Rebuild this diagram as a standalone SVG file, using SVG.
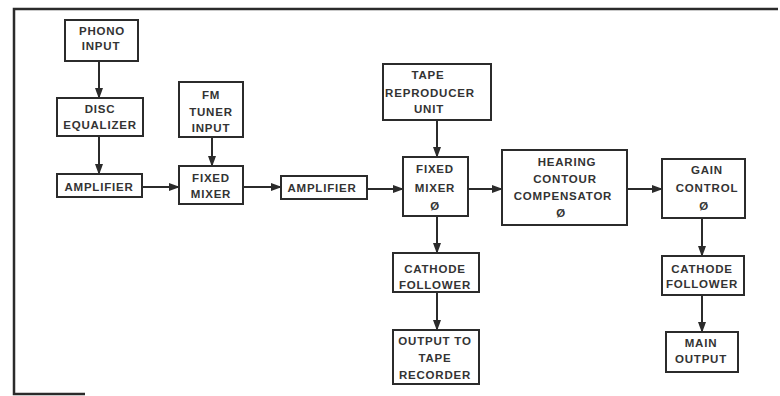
<svg xmlns="http://www.w3.org/2000/svg" width="780" height="396" viewBox="0 0 780 396">
<defs>
<marker id="ah" markerWidth="11" markerHeight="8" refX="10" refY="4" orient="auto" markerUnits="userSpaceOnUse">
<path d="M0,0 L11,4 L0,8 z" fill="#2b2b2b"/>
</marker>
</defs>
<style>
.box{fill:#fff;stroke:#2b2b2b;stroke-width:2}
.t{font-family:"Liberation Sans",Arial,sans-serif;font-weight:bold;font-size:11.5px;letter-spacing:0.8px;fill:#333;text-anchor:middle}
.c{stroke:#2b2b2b;stroke-width:2;fill:none;marker-end:url(#ah)}
.frame{stroke:#2b2b2b;stroke-width:2.5;fill:none}
</style>
<rect width="780" height="396" fill="#fff"/>
<path class="frame" d="M778,9 L14,9 L14,394 L85,394"/>
<g id="connectors">
<line class="c" x1="99" y1="61" x2="99" y2="98"/>
<line class="c" x1="99" y1="136" x2="99" y2="174"/>
<line class="c" x1="142" y1="187" x2="179" y2="187"/>
<line class="c" x1="212" y1="137" x2="212" y2="166"/>
<line class="c" x1="243" y1="187" x2="281" y2="187"/>
<line class="c" x1="367" y1="189" x2="403" y2="189"/>
<line class="c" x1="437" y1="120" x2="437" y2="157"/>
<line class="c" x1="468" y1="189" x2="502" y2="189"/>
<line class="c" x1="627" y1="189" x2="662" y2="189"/>
<line class="c" x1="437" y1="216" x2="437" y2="253"/>
<line class="c" x1="437" y1="292" x2="437" y2="330"/>
<line class="c" x1="702" y1="218" x2="702" y2="256"/>
<line class="c" x1="702" y1="295" x2="702" y2="332"/>
</g>
<g id="phono">
<rect class="box" x="65" y="20" width="73" height="41"/>
<text class="t" x="102" y="35">PHONO</text>
<text class="t" x="101" y="50">INPUT</text>
</g>
<g id="disc">
<rect class="box" x="57" y="98" width="86" height="38"/>
<text class="t" x="100" y="113">DISC</text>
<text class="t" x="100" y="129">EQUALIZER</text>
</g>
<g id="amp1">
<rect class="box" x="57" y="174" width="85" height="23"/>
<text class="t" x="99" y="191">AMPLIFIER</text>
</g>
<g id="fm">
<rect class="box" x="179" y="82" width="64" height="55"/>
<text class="t" x="211" y="99">FM</text>
<text class="t" x="211" y="116">TUNER</text>
<text class="t" x="211" y="132">INPUT</text>
</g>
<g id="mixer1">
<rect class="box" x="179" y="166" width="64" height="38"/>
<text class="t" x="211" y="182">FIXED</text>
<text class="t" x="211" y="198">MIXER</text>
</g>
<g id="amp2">
<rect class="box" x="281" y="176" width="86" height="23"/>
<text class="t" x="322" y="192">AMPLIFIER</text>
</g>
<g id="tape">
<rect class="box" x="383" y="64" width="108" height="56"/>
<text class="t" x="428" y="79">TAPE</text>
<text class="t" x="430" y="97">REPRODUCER</text>
<text class="t" x="429" y="113">UNIT</text>
</g>
<g id="mixer2">
<rect class="box" x="403" y="157" width="65" height="59"/>
<text class="t" x="435" y="173">FIXED</text>
<text class="t" x="435" y="192">MIXER</text>
<text class="t" x="435" y="210">Ø</text>
</g>
<g id="hearing">
<rect class="box" x="502" y="150" width="125" height="75"/>
<text class="t" x="567" y="166">HEARING</text>
<text class="t" x="565" y="183">CONTOUR</text>
<text class="t" x="563" y="200">COMPENSATOR</text>
<text class="t" x="561" y="217">Ø</text>
</g>
<g id="gain">
<rect class="box" x="662" y="159" width="83" height="59"/>
<text class="t" x="707" y="174">GAIN</text>
<text class="t" x="707" y="192">CONTROL</text>
<text class="t" x="704" y="210">Ø</text>
</g>
<g id="cf1">
<rect class="box" x="393" y="253" width="86" height="39"/>
<text class="t" x="435" y="273">CATHODE</text>
<text class="t" x="435" y="289">FOLLOWER</text>
</g>
<g id="outtape">
<rect class="box" x="393" y="330" width="86" height="54"/>
<text class="t" x="435" y="345">OUTPUT TO</text>
<text class="t" x="435" y="362">TAPE</text>
<text class="t" x="435" y="379">RECORDER</text>
</g>
<g id="cf2">
<rect class="box" x="662" y="256" width="82" height="39"/>
<text class="t" x="702" y="273">CATHODE</text>
<text class="t" x="702" y="288">FOLLOWER</text>
</g>
<g id="main">
<rect class="box" x="666" y="332" width="72" height="40"/>
<text class="t" x="701" y="347">MAIN</text>
<text class="t" x="701" y="363">OUTPUT</text>
</g>
</svg>
